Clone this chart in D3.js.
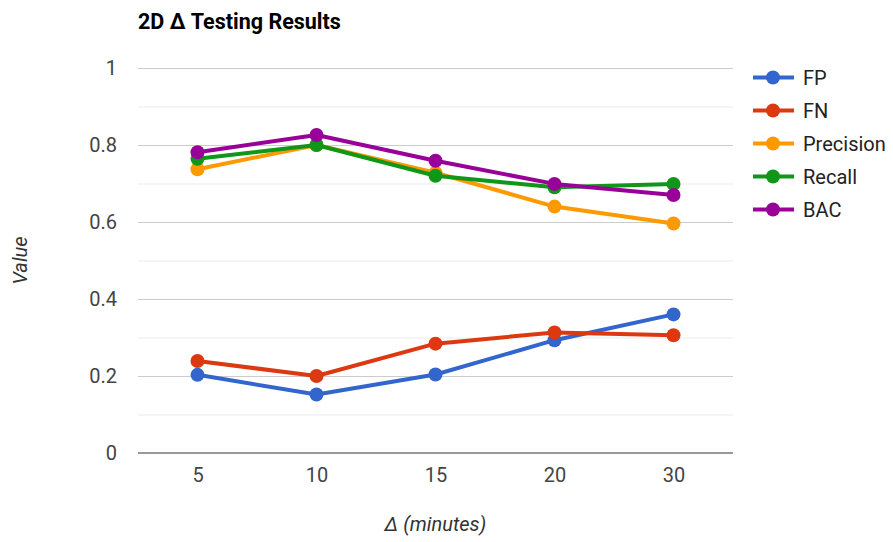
<!DOCTYPE html>
<html>
<head>
<meta charset="utf-8">
<script src="https://cdn.jsdelivr.net/npm/d3@7"></script>
<style>
  body { margin: 0; background: #fff; }
  svg { display: block; }
  text { font-family: Roboto, Arial, sans-serif; }
</style>
</head>
<body>
<svg id="chart" width="893" height="542"></svg>
<script>
// Testing results per time window Δ (minutes)
const categories = ["5", "10", "15", "20", "30"];
const fpValues        = [0.203, 0.152, 0.204, 0.293, 0.360];
const fnValues        = [0.239, 0.200, 0.284, 0.313, 0.306];
const precisionValues = [0.737, 0.800, 0.728, 0.640, 0.596];
const recallValues    = [0.764, 0.800, 0.720, 0.690, 0.699];
const bacValues       = [0.781, 0.826, 0.759, 0.699, 0.670];

const seriesNames  = ["FP", "FN", "Precision", "Recall", "BAC"];
const seriesColors = ["#3366cc", "#dc3912", "#ff9900", "#109618", "#990099"];
const yTicks      = [0, 0.2, 0.4, 0.6, 0.8, 1];
const yMinorTicks = [0.1, 0.3, 0.5, 0.7, 0.9];

const series = [fpValues, fnValues, precisionValues, recallValues, bacValues]
  .map((values, i) => ({ name: seriesNames[i], color: seriesColors[i], values }));

const svg = d3.select("#chart");
const plot = { left: 138, right: 733, top: 68, bottom: 453 };

const x = d3.scalePoint().domain(categories).range([plot.left, plot.right]).padding(0.5);
const y = d3.scaleLinear().domain([0, 1]).range([plot.bottom, plot.top]);

// Title
svg.append("text")
  .attr("x", 138).attr("y", 29)
  .attr("font-size", 21.5).attr("font-weight", "bold").attr("fill", "#000")
  .text("2D Δ Testing Results");

// Minor gridlines
svg.append("g")
  .attr("transform", `translate(${plot.left},0)`)
  .call(d3.axisLeft(y).tickValues(yMinorTicks).tickSize(-(plot.right - plot.left)).tickFormat(""))
  .call(g => g.select(".domain").remove())
  .call(g => g.selectAll(".tick line").attr("stroke", "#ebebeb"));

// Major gridlines and y labels
svg.append("g")
  .attr("transform", `translate(${plot.left},0)`)
  .call(d3.axisLeft(y).tickValues(yTicks.filter(d => d !== 0))
        .tickSize(-(plot.right - plot.left)).tickPadding(21).tickFormat(d3.format("~g")))
  .call(g => g.select(".domain").remove())
  .call(g => g.selectAll(".tick line").attr("stroke", "#cccccc"))
  .call(g => g.selectAll(".tick text").attr("font-size", 20).attr("fill", "#444").attr("font-family", "Roboto, Arial, sans-serif"));

// Zero label (the baseline itself is drawn below)
svg.append("g")
  .attr("transform", `translate(${plot.left},0)`)
  .call(d3.axisLeft(y).tickValues([0]).tickSize(0).tickPadding(21).tickFormat(d3.format("~g")))
  .call(g => g.select(".domain").remove())
  .call(g => g.selectAll(".tick text").attr("font-size", 20).attr("fill", "#444").attr("font-family", "Roboto, Arial, sans-serif"));

// X axis labels
svg.append("g")
  .attr("transform", `translate(0,${plot.bottom})`)
  .call(d3.axisBottom(x).tickSize(0).tickPadding(15))
  .call(g => g.select(".domain").remove())
  .call(g => g.selectAll(".tick text").attr("font-size", 20).attr("fill", "#444").attr("font-family", "Roboto, Arial, sans-serif"));

svg.append("line")
  .attr("x1", plot.left).attr("x2", plot.right)
  .attr("y1", y(0)).attr("y2", y(0))
  .attr("stroke", "#333").attr("stroke-width", 1);

// Axis titles
svg.append("text")
  .attr("x", (plot.left + plot.right) / 2).attr("y", 531)
  .attr("text-anchor", "middle").attr("font-size", 20).attr("font-style", "italic").attr("fill", "#333")
  .text("Δ (minutes)");

svg.append("text")
  .attr("transform", `translate(27,${(plot.top + plot.bottom) / 2}) rotate(-90)`)
  .attr("text-anchor", "middle").attr("font-size", 20).attr("font-style", "italic").attr("fill", "#333")
  .text("Value");

// Series lines and points
const line = d3.line().x((d, i) => x(categories[i])).y(d => y(d));

const sg = svg.append("g").selectAll("g").data(series).join("g");
sg.append("path")
  .attr("d", d => line(d.values))
  .attr("fill", "none").attr("stroke", d => d.color).attr("stroke-width", 4)
  .attr("stroke-linejoin", "round");
sg.selectAll("circle").data(d => d.values.map(v => ({ v, color: d.color }))).join("circle")
  .attr("cx", (d, i) => x(categories[i])).attr("cy", d => y(d.v))
  .attr("r", 7).attr("fill", d => d.color);

// Legend
const legend = svg.append("g").selectAll("g").data(series).join("g")
  .attr("transform", (d, i) => `translate(753,${77.5 + i * 33})`);
legend.append("line")
  .attr("x1", 0).attr("x2", 41).attr("y1", 0).attr("y2", 0)
  .attr("stroke", d => d.color).attr("stroke-width", 4);
legend.append("circle").attr("cx", 20).attr("cy", 0).attr("r", 7).attr("fill", d => d.color);
legend.append("text")
  .attr("x", 50).attr("y", 0).attr("dy", "0.36em")
  .attr("font-size", 20).attr("fill", "#222")
  .text(d => d.name);
</script>
</body>
</html>
